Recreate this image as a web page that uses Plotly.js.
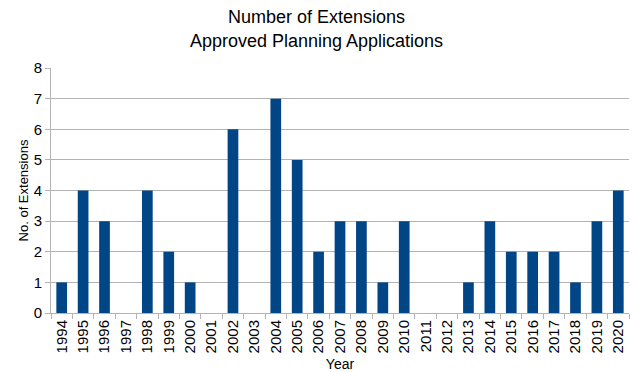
<!DOCTYPE html>
<html>
<head>
<meta charset="utf-8">
<script src="https://cdn.plot.ly/plotly-3.0.1.min.js"></script>
<style>html,body{margin:0;padding:0;background:#fff;}#chart{width:633px;height:372px;}</style>
</head>
<body>
<div id="chart"></div>
<script>
const years = ["1994","1995","1996","1997","1998","1999","2000","2001","2002","2003","2004","2005","2006","2007","2008","2009","2010","2011","2012","2013","2014","2015","2016","2017","2018","2019","2020"];
const extensions = [1,4,3,0,4,2,1,0,6,0,7,5,2,3,3,1,3,0,0,1,3,2,2,2,1,3,4];
const yTicks = [0,1,2,3,4,5,6,7,8];

const font = "Liberation Sans, Arial, sans-serif";
Plotly.newPlot("chart", [{
  type: "bar",
  x: years,
  y: extensions,
  marker: {color: "#004586"},
  width: 0.5,
  hoverinfo: "x+y"
}], {
  width: 633, height: 372,
  margin: {l: 51, r: 4, t: 68, b: 59, pad: 0},
  paper_bgcolor: "#fff", plot_bgcolor: "#fff",
  font: {family: font, color: "#000"},
  title: {text: "Number of Extensions<br>Approved Planning Applications", x: 0.5, xanchor: "center", yref: "container", y: 0.937, yanchor: "bottom", font: {size: 18, family: font}},
  xaxis: {
    type: "category",
    tickangle: -90,
    tickfont: {size: 15},
    tickson: "boundaries",
    ticks: "outside", ticklen: 5, tickcolor: "#b3b3b3",
    showline: true, linecolor: "#b3b3b3", linewidth: 1,
    showgrid: false,
    title: {text: "Year", font: {size: 14}, standoff: 6}
  },
  yaxis: {
    range: [0, 8],
    tickvals: yTicks,
    tickfont: {size: 15},
    ticks: "outside", ticklen: 5, tickcolor: "#b3b3b3",
    showline: true, linecolor: "#b3b3b3", linewidth: 1,
    showgrid: true, gridcolor: "#b3b3b3",
    zeroline: false,
    title: {text: "No. of Extensions", font: {size: 13}, standoff: 2}
  },
  showlegend: false
}, {staticPlot: true});
</script>
</body>
</html>
